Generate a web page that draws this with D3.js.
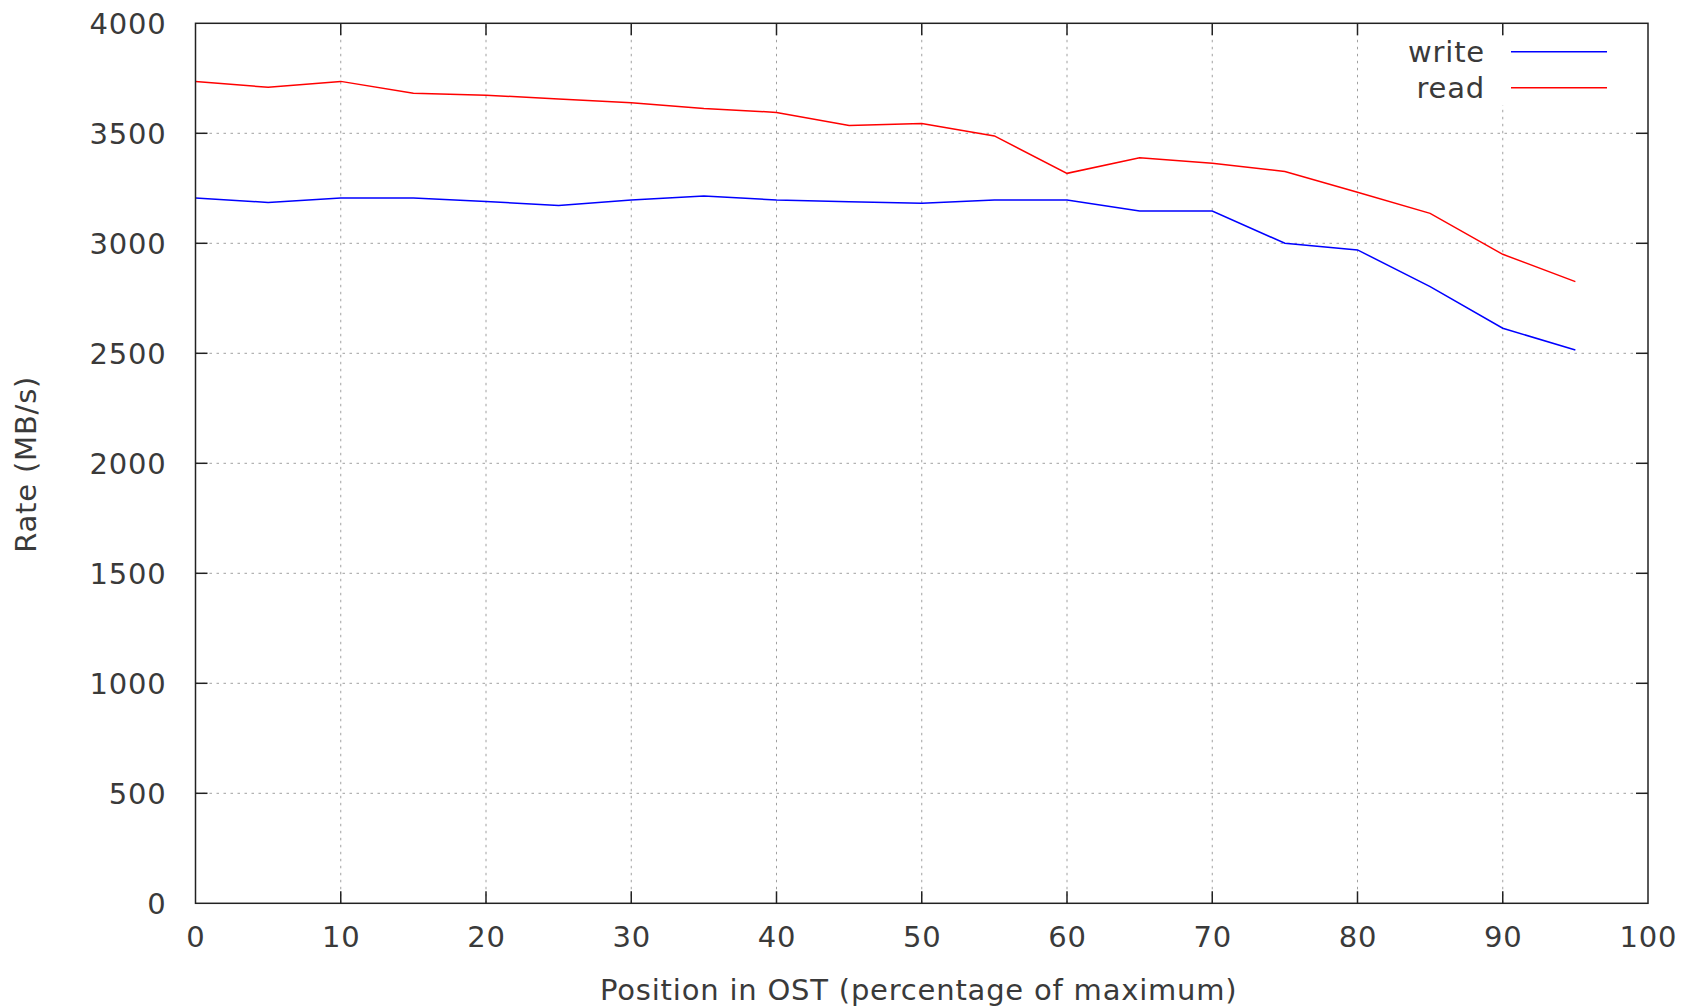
<!DOCTYPE html>
<head>
<meta charset="utf-8">
<script src="https://d3js.org/d3.v7.min.js"></script>
<style>
  body { margin: 0; background: #fff; }
  text { font-family: "DejaVu Sans", sans-serif; fill: #3a3a3a; letter-spacing: 0.8px; }
</style>
</head>
<body>
<svg width="1692" height="1007"></svg>
<script>

// data: position (%) vs rate (MB/s)
let positions = [0, 5, 10, 15, 20, 25, 30, 35, 40, 45, 50, 55, 60, 65, 70, 75, 80, 85, 90, 95];
let writeRate = [3206, 3186, 3206, 3206, 3190, 3172, 3197, 3215, 3197, 3189, 3182, 3197, 3197, 3147, 3147, 3000, 2970, 2803, 2614, 2515];
let readRate  = [3735, 3709, 3736, 3682, 3673, 3656, 3639, 3613, 3595, 3535, 3544, 3488, 3318, 3389, 3364, 3326, 3232, 3136, 2950, 2826];
let seriesNames = ["write", "read"];
let seriesColors = ["#0000ff", "#ff0000"];
let xTicks = [0, 10, 20, 30, 40, 50, 60, 70, 80, 90, 100];
let yTicks = [0, 500, 1000, 1500, 2000, 2500, 3000, 3500, 4000];

let svg = d3.select("svg");

let margin = {left: 195.5, right: 1648, top: 23.3, bottom: 903.3};

let x = d3.scaleLinear().domain([0, 100]).range([margin.left, margin.right]);
let y = d3.scaleLinear().domain([0, 4000]).range([margin.bottom, margin.top]);

// grid
let grid = svg.append("g")
    .attr("stroke", "#a0a0a0")
    .attr("stroke-width", 1)
    .attr("stroke-dasharray", "2.5,4.5");

grid.selectAll(".gx")
  .data(xTicks.slice(1, -1))
  .enter().append("line")
    .attr("x1", x).attr("x2", x)
    .attr("y1", y(0)).attr("y2", y(4000));

grid.selectAll(".gy")
  .data(yTicks.slice(1, -1))
  .enter().append("line")
    .attr("x1", x(0)).attr("x2", x(100))
    .attr("y1", y).attr("y2", y);

// key box hides the grid behind it
svg.append("rect")
    .attr("x", 1395).attr("y", 36)
    .attr("width", 240).attr("height", 69)
    .attr("fill", "#fff");

// series
let series = [writeRate, readRate];
let line = d3.line()
    .x(function(d, i) { return x(positions[i]); })
    .y(function(d) { return y(d); });

svg.append("g").selectAll("path")
  .data(series)
  .enter().append("path")
    .attr("fill", "none")
    .attr("stroke", function(d, i) { return seriesColors[i]; })
    .attr("stroke-width", 1.5)
    .attr("d", line);

// border + inward ticks on all four sides
let axes = svg.append("g").attr("stroke", "#222").attr("stroke-width", 1.5);

axes.append("rect")
    .attr("x", x(0)).attr("y", y(4000))
    .attr("width", x(100) - x(0)).attr("height", y(0) - y(4000))
    .attr("fill", "none");

let tl = 12;
xTicks.slice(1, -1).forEach(function(t) {
  axes.append("line").attr("x1", x(t)).attr("x2", x(t)).attr("y1", y(0)).attr("y2", y(0) - tl);
  axes.append("line").attr("x1", x(t)).attr("x2", x(t)).attr("y1", y(4000)).attr("y2", y(4000) + tl);
});
yTicks.slice(1, -1).forEach(function(t) {
  axes.append("line").attr("x1", x(0)).attr("x2", x(0) + tl).attr("y1", y(t)).attr("y2", y(t));
  axes.append("line").attr("x1", x(100)).attr("x2", x(100) - tl).attr("y1", y(t)).attr("y2", y(t));
});

// tick labels
svg.append("g").selectAll("text")
  .data(yTicks)
  .enter().append("text")
    .attr("x", 166.5)
    .attr("y", y)
    .attr("dy", "0.36em")
    .attr("text-anchor", "end")
    .attr("font-size", 29)
    .text(function(d) { return d; });

svg.append("g").selectAll("text")
  .data(xTicks)
  .enter().append("text")
    .attr("x", function(d) { return x(d) + 0.4; })
    .attr("y", 937)
    .attr("dy", "0.36em")
    .attr("text-anchor", "middle")
    .attr("font-size", 29)
    .text(function(d) { return d; });

// axis titles
svg.append("text")
    .attr("x", (margin.left + margin.right) / 2 - 3)
    .attr("y", 1000)
    .attr("text-anchor", "middle")
    .attr("font-size", 29)
    .text("Position in OST (percentage of maximum)");

svg.append("text")
    .attr("transform", "translate(36," + ((margin.top + margin.bottom) / 2 + 1) + ")rotate(-90)")
    .attr("text-anchor", "middle")
    .attr("font-size", 29)
    .text("Rate (MB/s)");

// key
let key = svg.append("g").selectAll("g")
  .data(seriesNames)
  .enter().append("g")
    .attr("transform", function(d, i) { return "translate(0," + (51.7 + i * 36) + ")"; });

key.append("text")
    .attr("x", 1485)
    .attr("dy", "0.36em")
    .attr("text-anchor", "end")
    .attr("font-size", 29)
    .text(function(d) { return d; });

key.append("line")
    .attr("x1", 1511).attr("x2", 1607)
    .attr("stroke", function(d, i) { return seriesColors[i]; })
    .attr("stroke-width", 1.5);

</script>
</body>
